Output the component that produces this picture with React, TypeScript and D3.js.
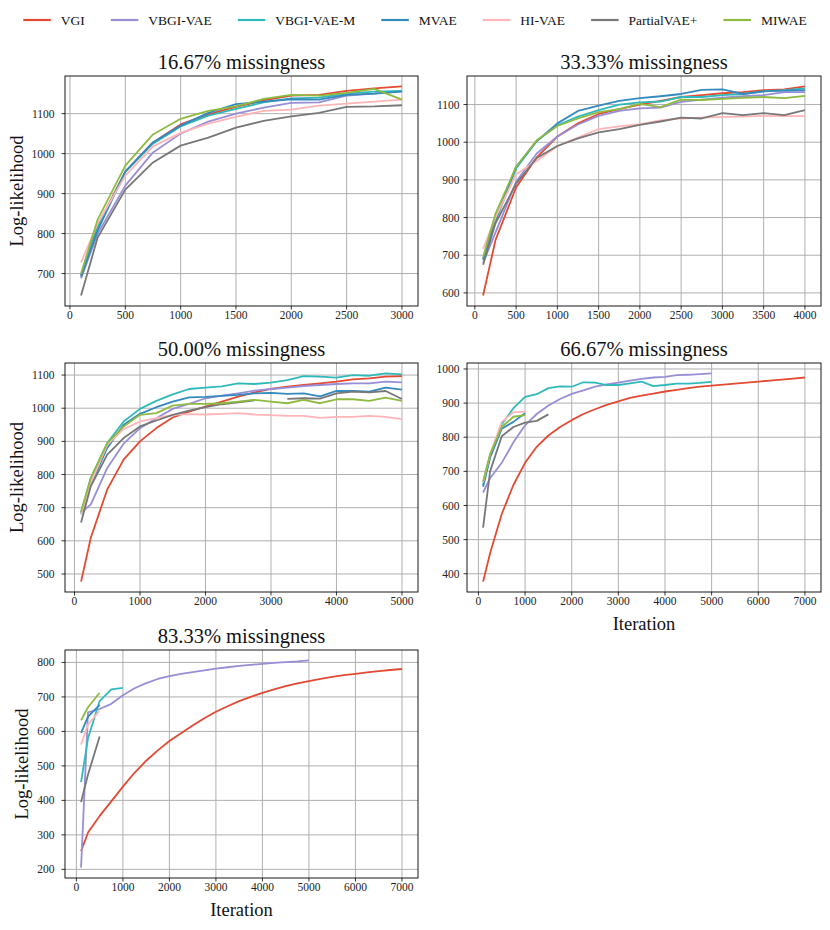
import { useEffect, useRef } from "react";
import * as d3 from "d3";

// legend / series order
const methods = ["VGI", "VBGI-VAE", "VBGI-VAE-M", "MVAE", "HI-VAE", "PartialVAE+", "MIWAE"];
const colors = ["#E24A33", "#988ED5", "#30B9BB", "#348ABD", "#FFB5B8", "#777777", "#8EBA42"];
const titles = [
  "16.67% missingness",
  "33.33% missingness",
  "50.00% missingness",
  "66.67% missingness",
  "83.33% missingness",
];

// evaluation iterations (the i-th value of each series belongs to iterations[i])
const iterations = [
  100, 250, 500, 750, 1000, 1250, 1500, 1750, 2000, 2250, 2500, 2750, 3000, 3250, 3500,
  3750, 4000, 4250, 4500, 4750, 5000, 5250, 5500, 5750, 6000, 6250, 6500, 6750, 7000,
];

// log-likelihood per method, one array per missingness level
const ll16: (number | null)[][] = [
  [695, 820, 955, 1028, 1073, 1098, 1117, 1133, 1145, 1147, 1157, 1163, 1168],
  [688, 800, 920, 1003, 1050, 1080, 1100, 1115, 1127, 1128, 1145, 1150, 1157],
  [695, 815, 955, 1025, 1068, 1095, 1112, 1128, 1138, 1140, 1150, 1155, 1157],
  [692, 808, 955, 1028, 1070, 1102, 1124, 1130, 1136, 1135, 1147, 1150, 1155],
  [728, 825, 945, 1018, 1052, 1075, 1092, 1107, 1110, 1120, 1125, 1130, 1135],
  [645, 790, 910, 978, 1020, 1040, 1065, 1082, 1093, 1102, 1117, 1118, 1121],
  [700, 835, 970, 1048, 1087, 1107, 1118, 1137, 1147, 1145, 1152, 1162, 1135],
];

const ll33: (number | null)[][] = [
  [593, 740, 880, 960, 1015, 1050, 1075, 1088, 1100, 1110, 1120, 1125, 1130, 1133, 1138, 1140, 1148],
  [680, 760, 895, 970, 1015, 1047, 1070, 1083, 1090, 1092, 1107, 1113, 1118, 1122, 1125, 1133, 1133],
  [690, 790, 930, 1003, 1045, 1068, 1085, 1100, 1106, 1108, 1120, 1120, 1125, 1128, 1135, 1138, 1143],
  [688, 795, 935, 1003, 1050, 1083, 1097, 1110, 1117, 1122, 1128, 1139, 1140, 1128, 1135, 1137, 1138],
  [717, 800, 915, 950, 990, 1012, 1035, 1042, 1048, 1058, 1063, 1065, 1067, 1068, 1070, 1069, 1069],
  [675, 785, 890, 958, 990, 1010, 1026, 1035, 1046, 1055, 1065, 1063, 1077, 1072, 1077, 1072, 1085],
  [695, 810, 935, 1005, 1043, 1063, 1080, 1088, 1102, 1093, 1113, 1112, 1115, 1118, 1120, 1117, 1123],
];

const ll50: (number | null)[][] = [
  [477, 610, 755, 845, 900, 940, 972, 990, 1005, 1020, 1035, 1048, 1058, 1065, 1070, 1075, 1080, 1087, 1090, 1095, 1097],
  [685, 710, 820, 893, 940, 970, 998, 1013, 1030, 1038, 1045, 1053, 1058, 1062, 1067, 1070, 1073, 1075, 1075, 1080, 1078],
  [685, 790, 895, 960, 998, 1022, 1042, 1058, 1062, 1066, 1075, 1073, 1077, 1085, 1097, 1095, 1092, 1100, 1098, 1105, 1102],
  [680, 770, 880, 950, 983, 1003, 1020, 1033, 1034, 1037, 1040, 1045, 1046, 1043, 1045, 1036, 1052, 1052, 1050, 1062, 1056],
  [680, 775, 890, 937, 960, 970, 980, 982, 981, 983, 985, 981, 979, 977, 977, 971, 974, 974, 977, 974, 967],
  [655, 765, 860, 910, 945, 963, 980, 993, 1003, 1012, 1018, 1024, null, 1028, 1030, 1029, 1045, 1050, 1048, 1052, 1028],
  [688, 790, 895, 945, 980, 985, 1008, 1013, 1013, 1015, 1020, 1025, 1020, 1015, 1025, 1015, 1027, 1027, 1022, 1032, 1022],
];

const ll67: (number | null)[][] = [
  [377, 460, 575, 660, 725, 772, 805, 830, 850, 868, 882, 895, 905, 915, 922, 928, 934, 939, 944, 948, 951, 954, 957, 960, 963, 966, 969, 972, 975],
  [638, 680, 725, 785, 835, 868, 893, 912, 927, 937, 948, 955, 960, 966, 971, 975, 977, 982, 983, 985, 987],
  [660, 745, 838, 885, 918, 926, 944, 949, 948, 961, 960, 953, 953, 958, 963, 950, 953, 957, 957, 959, 962],
  [655, 740, 825, 845, 870],
  [668, 750, 845, 873, 875],
  [535, 700, 803, 830, 843, 848, 867],
  [670, 750, 830, 860, 865],
];

const ll83: (number | null)[][] = [
  [253, 307, 355, 397, 440, 480, 515, 545, 572, 595, 617, 638, 657, 673, 688, 700, 712, 722, 731, 739, 746, 752, 758, 763, 767, 771, 775, 778, 781],
  [205, 655, 665, 680, 705, 725, 740, 752, 760, 767, 772, 777, 782, 786, 790, 793, 796, 799, 801, 803, 806],
  [453, 580, 688, 722, 726],
  [596, 643, 677],
  [562, 620, 660],
  [395, 475, 585],
  [632, 670, 712],
];

const panelData = [ll16, ll33, ll50, ll67, ll83];
const xTickSteps = [500, 500, 1000, 1000, 1000];
const yTickStep = 100;

const FONT = "'Liberation Serif', 'DejaVu Serif', serif";

export default function App() {
  const svgRef = useRef<SVGSVGElement>(null);

  useEffect(() => {
    if (!svgRef.current) return;
    const svg = d3.select(svgRef.current);
    svg.selectAll("*").remove();

    // axes boxes
    const cols = [
      [65, 418],
      [467, 821],
    ];
    const rows = [
      [76, 306],
      [363, 592],
      [650, 878],
    ];

    panelData.forEach((series, p) => {
      const [x0, x1] = cols[p % 2];
      const [y0, y1] = rows[Math.floor(p / 2)];
      const g = svg.append("g");

      const maxLen = d3.max(series, (s) => s.length) as number;
      const xMin = iterations[0];
      const xMax = iterations[maxLen - 1];
      const xPad = (xMax - xMin) * 0.05;
      const vals = series.flat().filter((v): v is number => v != null);
      const [yMin, yMax] = d3.extent(vals) as [number, number];
      const yPad = (yMax - yMin) * 0.05;

      const x = d3.scaleLinear().domain([xMin - xPad, xMax + xPad]).range([x0, x1]);
      const y = d3.scaleLinear().domain([yMin - yPad, yMax + yPad]).range([y1, y0]);

      const xTicks = d3
        .range(0, xMax + xPad, xTickSteps[p])
        .filter((t) => t >= xMin - xPad);
      const yTicks = d3
        .range(Math.ceil((yMin - yPad) / yTickStep) * yTickStep, yMax + yPad, yTickStep);

      // grid
      g.selectAll(".gx")
        .data(xTicks)
        .join("line")
        .attr("x1", (d) => x(d))
        .attr("x2", (d) => x(d))
        .attr("y1", y0)
        .attr("y2", y1)
        .attr("stroke", "#b0b0b0")
        .attr("stroke-width", 1);
      g.selectAll(".gy")
        .data(yTicks)
        .join("line")
        .attr("x1", x0)
        .attr("x2", x1)
        .attr("y1", (d) => y(d))
        .attr("y2", (d) => y(d))
        .attr("stroke", "#b0b0b0")
        .attr("stroke-width", 1);

      // curves
      const line = d3
        .line<number | null>()
        .defined((d) => d != null)
        .x((_, i) => x(iterations[i]))
        .y((d) => y(d as number));
      series.forEach((s, m) => {
        g.append("path")
          .attr("d", line(s))
          .attr("fill", "none")
          .attr("stroke", colors[m])
          .attr("stroke-width", 1.8)
          .attr("stroke-linejoin", "round");
      });

      // frame
      g.append("rect")
        .attr("x", x0)
        .attr("y", y0)
        .attr("width", x1 - x0)
        .attr("height", y1 - y0)
        .attr("fill", "none")
        .attr("stroke", "#000")
        .attr("stroke-width", 0.9);

      // x ticks
      xTicks.forEach((t) => {
        g.append("line")
          .attr("x1", x(t))
          .attr("x2", x(t))
          .attr("y1", y1)
          .attr("y2", y1 + 3.5)
          .attr("stroke", "#000")
          .attr("stroke-width", 0.8);
        g.append("text")
          .attr("x", x(t))
          .attr("y", y1 + 13)
          .attr("text-anchor", "middle")
          .attr("font-family", FONT)
          .attr("font-size", "11.5px")
          .attr("fill", "#222")
          .text(String(t));
      });

      // y ticks
      const yLabels = g.append("g");
      const tickPad = p % 2 === 0 ? 10.5 : 7.5;
      yTicks.forEach((t) => {
        g.append("line")
          .attr("x1", x0 - 3.5)
          .attr("x2", x0)
          .attr("y1", y(t))
          .attr("y2", y(t))
          .attr("stroke", "#000")
          .attr("stroke-width", 0.8);
        yLabels
          .append("text")
          .attr("x", x0 - tickPad)
          .attr("y", y(t))
          .attr("dy", "0.35em")
          .attr("text-anchor", "end")
          .attr("font-family", FONT)
          .attr("font-size", "11.5px")
          .attr("fill", "#222")
          .text(String(t));
      });

      // title
      g.append("text")
        .attr("x", (x0 + x1) / 2)
        .attr("y", y0 - 7)
        .attr("text-anchor", "middle")
        .attr("font-family", FONT)
        .attr("font-size", "20.5px")
        .attr("fill", "#111")
        .text(titles[p]);

      // x label on bottom panels
      if (p >= 3) {
        g.append("text")
          .attr("x", (x0 + x1) / 2)
          .attr("y", y1 + 38)
          .attr("text-anchor", "middle")
          .attr("font-family", FONT)
          .attr("font-size", "18.5px")
          .attr("fill", "#111")
          .text("Iteration");
      }

      // y label on left column
      if (p % 2 === 0) {
        const bb = (yLabels.node() as SVGGElement).getBBox();
        const lx = bb.x - 9;
        const ly = (y0 + y1) / 2;
        g.append("text")
          .attr("transform", `translate(${lx},${ly}) rotate(-90)`)
          .attr("text-anchor", "middle")
          .attr("font-family", FONT)
          .attr("font-size", "18.5px")
          .attr("fill", "#111")
          .text("Log-likelihood");
      }
    });

    // legend, centred across the top
    const legend = svg.append("g");
    const lineLen = 27.5;
    const textGap = 10;
    const itemGap = 26;
    let cursor = 0;
    methods.forEach((name, m) => {
      const item = legend.append("g").attr("transform", `translate(${cursor},0)`);
      item
        .append("line")
        .attr("x1", 0)
        .attr("x2", lineLen)
        .attr("y1", 20)
        .attr("y2", 20)
        .attr("stroke", colors[m])
        .attr("stroke-width", 2.2);
      const t = item
        .append("text")
        .attr("x", lineLen + textGap)
        .attr("y", 24.8)
        .attr("font-family", FONT)
        .attr("font-size", "13.5px")
        .attr("fill", "#111")
        .text(name);
      const w = (t.node() as SVGTextElement).getComputedTextLength();
      cursor += lineLen + textGap + w + itemGap;
    });
    const total = cursor - itemGap;
    legend.attr("transform", `translate(${415 - total / 2},0)`);
  }, []);

  return (
    <svg
      ref={svgRef}
      width={830}
      height={930}
      style={{ position: "absolute", left: 0, top: 0, background: "#fff" }}
    ></svg>
  );
}
